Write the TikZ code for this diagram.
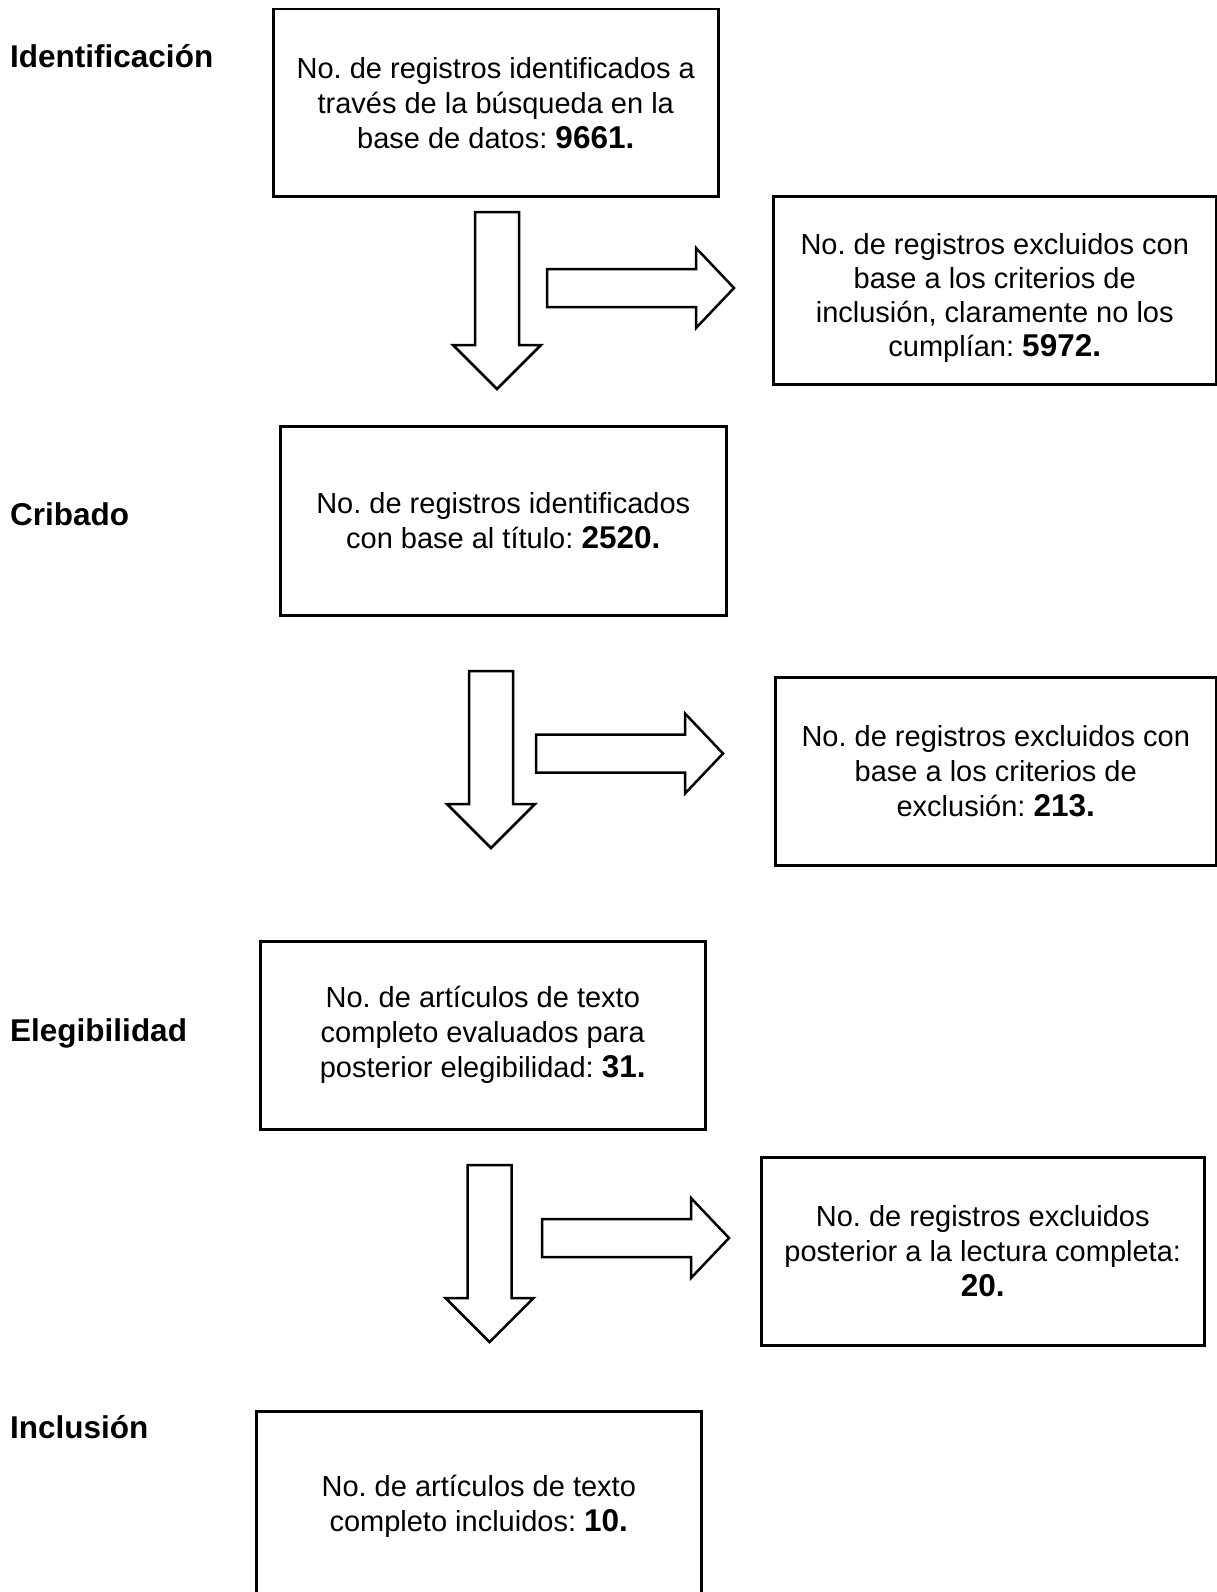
\documentclass[tikz,border=0pt]{standalone}
\usepackage{fontspec}
\setmainfont{Liberation Sans}
\frenchspacing
\begin{document}
\begin{tikzpicture}[x=1pt,y=-1pt,
  box/.style={draw=black, line width=2.5pt, anchor=north west, inner sep=0pt,
    align=center, font=\fontsize{29}{35}\selectfont},
  stage/.style={anchor=base west, inner sep=0pt, font=\fontsize{31.5}{35}\selectfont\bfseries},
  darrow/.pic={\draw[line width=2.5pt, line join=miter, fill=white]
     (-22,0) -- (22,0) -- (22,133) -- (44,133) -- (0,177) -- (-44,133) -- (-22,133) -- cycle;},
  rarrow/.pic={\draw[line width=2.5pt, line join=miter, fill=white]
     (0,-19) -- (149,-19) -- (149,-40) -- (187,0) -- (149,40) -- (149,19) -- (0,19) -- cycle;}
]
\newcommand{\bnum}[1]{{\fontsize{31.5}{35}\selectfont\bfseries #1}}
\useasboundingbox[fill=white] (0,0) rectangle (1217,1592);

% stage labels
\node[stage] (lid) at (10,68) {Identificación};
\node[stage] (lcr) at (10,525) {Cribado};
\node[stage] (lel) at (10,1041) {Elegibilidad};
\node[stage] (lin) at (10,1438) {Inclusión};

% boxes
\node[box, minimum width=445pt, minimum height=187pt] (b1) at (272,8)
  {No. de registros identificados a\\través de la búsqueda en la\\base de datos: \bnum{9661.}};
\node[box, minimum width=443pt, minimum height=188pt, font=\fontsize{29}{34}\selectfont] (r1) at (772,195)
  {\rule{0pt}{36pt}No. de registros excluidos con\\base a los criterios de\\inclusión, claramente no los\\cumplían: \bnum{5972.}};
\node[box, minimum width=446pt, minimum height=189pt] (b2) at (279,425)
  {No. de registros identificados\\con base al título: \bnum{2520.}};
\node[box, minimum width=441pt, minimum height=188pt] (r2) at (774,676)
  {No. de registros excluidos con\\base a los criterios de\\exclusión: \bnum{213.}};
\node[box, minimum width=445pt, minimum height=188pt] (b3) at (259,940)
  {No. de artículos de texto\\completo evaluados para\\posterior elegibilidad: \bnum{31.}};
\node[box, minimum width=443pt, minimum height=188pt] (r3) at (760,1156)
  {No. de registros excluidos\\posterior a la lectura completa:\\\bnum{20.}};
\node[box, minimum width=445pt, minimum height=190pt] (b4) at (255,1410)
  {No. de artículos de texto\\completo incluidos: \bnum{10.}};

% block arrows
\pic at (497,212) {darrow};
\pic at (547,288) {rarrow};
\pic at (491,671) {darrow};
\pic at (536,753.5) {rarrow};
\pic at (489.5,1165) {darrow};
\pic at (542,1238) {rarrow};
\end{tikzpicture}
\end{document}
